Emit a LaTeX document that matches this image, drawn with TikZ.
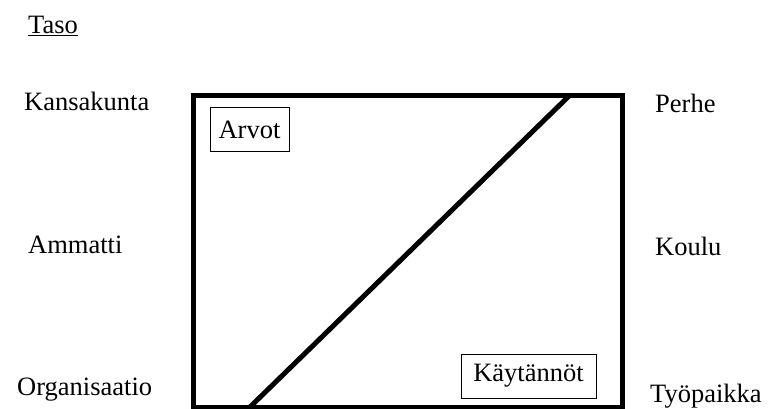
\documentclass[tikz,border=0pt]{standalone}
\usepackage{fontspec}
\setmainfont{Liberation Serif}
\begin{document}
\begin{tikzpicture}[x=1pt,y=-1pt,
  lbl/.style={anchor=base west,inner sep=0pt,font=\fontsize{26.5}{30}\selectfont},
  tag/.style={draw,line width=1pt,inner sep=0pt,minimum height=44pt,font=\fontsize{26.5}{30}\selectfont},
  frame/.style={line width=5pt}]
\useasboundingbox (0,0) rectangle (774,409);
\node[lbl] (taso) at (28,34) {\underline{Taso}};
\node[lbl] (kansa) at (24,111) {Kansakunta};
\node[lbl] (ammatti) at (28,253) {Ammatti};
\node[lbl] (org) at (17,395) {Organisaatio};
\node[lbl] (perhe) at (655,113) {Perhe};
\node[lbl] (koulu) at (655,255) {Koulu};
\node[lbl] (tyo) at (650,402) {Työpaikka};
\coordinate (tl) at (193,96);
\coordinate (br) at (622,407);
\coordinate (dtop) at (569,96);
\coordinate (dbot) at (250,407);
\draw[frame] (tl) rectangle (br);
\draw[frame] (dbot) -- (dtop);
\node[tag,minimum width=79pt] (arvot) at (249.5,130) {Arvot};
\node[tag,minimum width=135pt] (kayt) at (528.5,376) {Käytännöt};
\end{tikzpicture}
\end{document}
